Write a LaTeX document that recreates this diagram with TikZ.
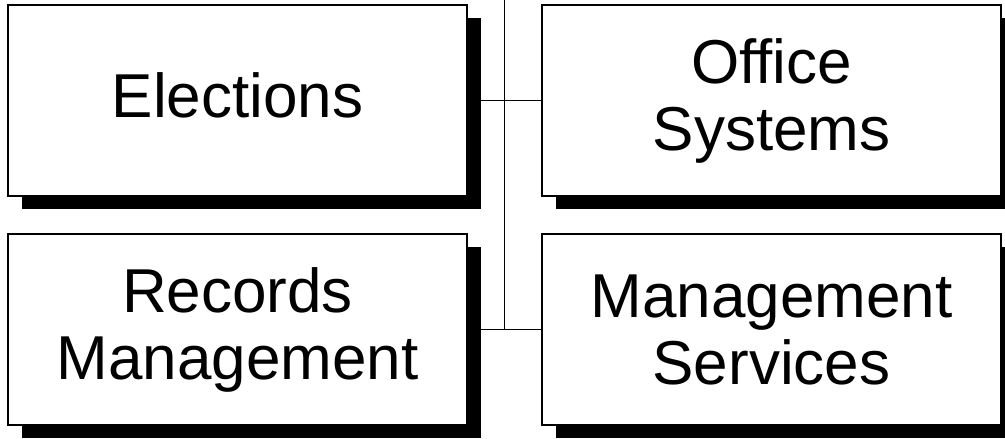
\documentclass[tikz,border=0pt]{standalone}
\usepackage{fontspec}
\setmainfont{Liberation Sans}
\usepackage{tikz}
\usetikzlibrary{calc,positioning,shadows}
\tikzset{
  unit/.style={draw, line width=1.6pt, fill=white, align=center,
    minimum width=459pt, minimum height=191pt, inner sep=0pt,
    font=\fontsize{62}{67}\selectfont,
    drop shadow={shadow xshift=13.5pt, shadow yshift=-13pt, fill=black, opacity=1}},
  link/.style={line width=1.5pt}
}
\begin{document}
\begin{tikzpicture}[x=1pt,y=-1pt]
  \useasboundingbox (0,0) rectangle (1005,439);
  % the four units
  \node[unit, text depth=11pt] (elect) at (237.5,100.5) {Elections};
  \node[unit] (office) at (771.5,100.5) {Office\\Systems};
  \node[unit] (records) at (237.5,329.5) {Records\\Management};
  \node[unit] (mgmt) at (771.5,329.5) {Management\\Services};
  % connectors
  \coordinate (top) at (504.5,0);
  \draw[link] (elect.east) -- (office.west);
  \draw[link] (records.east) -- (mgmt.west);
  \draw[link] (top) -- (top |- records.east);
\end{tikzpicture}
\end{document}
